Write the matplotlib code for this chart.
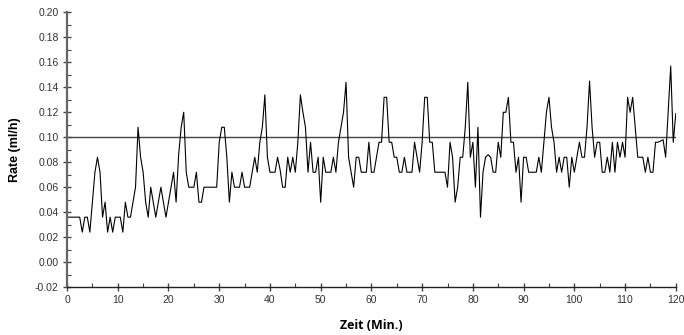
import numpy as np
import matplotlib
matplotlib.use("Agg")
import matplotlib.pyplot as plt
from matplotlib.ticker import MultipleLocator

# rate readings every 0.5 min, grouped per 10 minutes (20 values each)
rate_00 = [.036, .036, .036, .036, .036, .036, .024, .036, .036, .024,
           .048, .072, .084, .072, .036, .048, .024, .036, .024, .036]
rate_10 = [.036, .036, .024, .048, .036, .036, .048, .060, .108, .084,
           .072, .048, .036, .060, .048, .036, .048, .060, .048, .036]
rate_20 = [.048, .060, .072, .048, .086, .108, .120, .072, .060, .060,
           .060, .072, .048, .048, .060, .060, .060, .060, .060, .060]
rate_30 = [.096, .108, .108, .084, .048, .072, .060, .060, .060, .072,
           .060, .060, .060, .072, .084, .072, .096, .108, .134, .084]
rate_40 = [.072, .072, .072, .084, .074, .060, .060, .084, .072, .084,
           .072, .096, .134, .120, .108, .072, .096, .072, .072, .084]
rate_50 = [.048, .084, .072, .072, .072, .084, .072, .096, .108, .120,
           .144, .084, .072, .060, .084, .084, .072, .072, .072, .096]
rate_60 = [.072, .072, .084, .096, .096, .132, .132, .096, .096, .084,
           .084, .072, .072, .084, .072, .072, .072, .096, .084, .072]
rate_70 = [.096, .132, .132, .096, .096, .072, .072, .072, .072, .072,
           .060, .096, .084, .048, .060, .084, .084, .108, .144, .084]
rate_80 = [.096, .060, .108, .036, .072, .084, .086, .084, .072, .072,
           .096, .084, .120, .120, .132, .096, .096, .072, .084, .048]
rate_90 = [.084, .084, .072, .072, .072, .072, .084, .072, .096, .120,
           .132, .108, .096, .072, .084, .072, .084, .084, .060, .084]
rate_100 = [.072, .084, .096, .084, .084, .108, .145, .108, .084, .096,
            .096, .072, .072, .084, .072, .096, .072, .096, .084, .096]
rate_110 = [.084, .132, .120, .132, .108, .084, .084, .084, .072, .084,
            .072, .072, .096, .096, .097, .098, .084, .120, .157, .096]
rate_120 = [.119]

target_rate = 0.10
step_min = 0.5

rate = np.array(rate_00 + rate_10 + rate_20 + rate_30 + rate_40 + rate_50 + rate_60
                + rate_70 + rate_80 + rate_90 + rate_100 + rate_110 + rate_120)
zeit = np.arange(len(rate)) * step_min

fig = plt.figure(figsize=(6.84, 3.35), dpi=100)
ax = fig.add_axes([0.098, 0.143, 0.890, 0.820])

ax.axhline(target_rate, color="#444444", lw=1.0, zorder=1)
ax.plot(zeit, rate, color="black", lw=0.8, zorder=2)

ax.set_xlim(0, 120)
ax.set_ylim(-0.02, 0.20)
ax.xaxis.set_major_locator(MultipleLocator(10))
ax.xaxis.set_minor_locator(MultipleLocator(5))
ax.yaxis.set_major_locator(MultipleLocator(0.02))
ax.yaxis.set_minor_locator(MultipleLocator(0.01))
ax.yaxis.set_major_formatter(matplotlib.ticker.FormatStrFormatter("%.2f"))

for s in ("top", "right"):
    ax.spines[s].set_visible(False)
ax.spines["left"].set_color("#666666")
ax.spines["left"].set_linewidth(1.6)
ax.spines["bottom"].set_color("#222222")
ax.spines["bottom"].set_linewidth(1.0)

ax.tick_params(which="major", direction="inout", length=6, width=1.0,
               labelsize=7.5, labelcolor="#333333", pad=3, color="#444444")
ax.tick_params(which="minor", direction="in", length=3, width=0.8, color="#444444")
for lab in ax.get_xticklabels() + ax.get_yticklabels():
    lab.set_family("Liberation Sans")

ax.set_ylabel("Rate (ml/h)", fontsize=9, fontweight="bold", family="Liberation Sans",
              labelpad=10)
ax.set_xlabel("Zeit (Min.)", fontsize=9, fontweight="bold", family="Open Sans",
              labelpad=10)

fig.savefig("out.png", dpi=100)
